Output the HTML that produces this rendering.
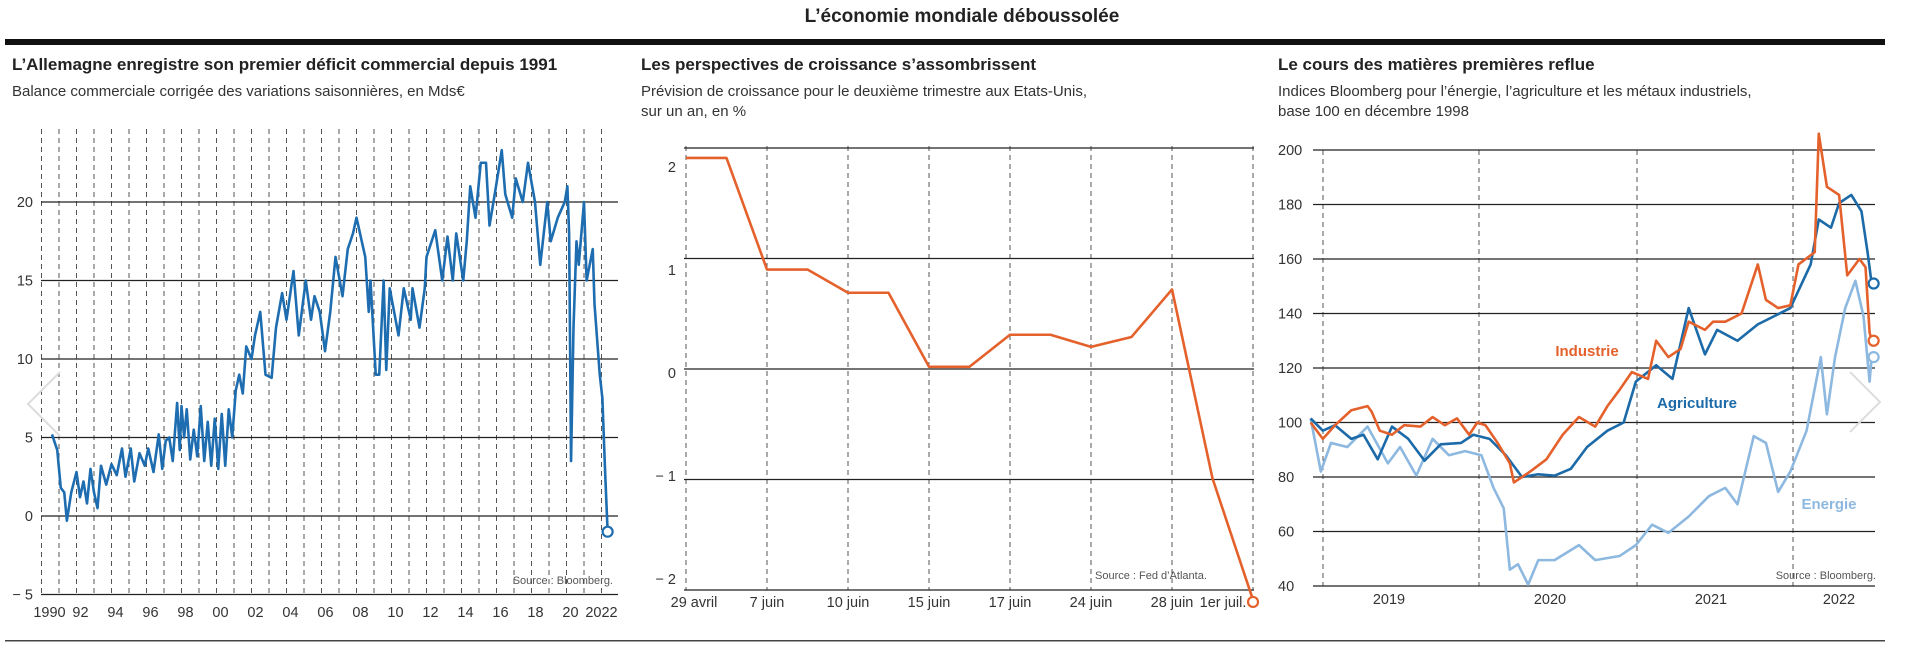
<!DOCTYPE html>
<html><head><meta charset="utf-8"><style>
html,body{margin:0;padding:0;background:#fff;}
svg{display:block;font-family:"Liberation Sans",sans-serif;}
.t{font-weight:bold;font-size:17px;fill:#222;}
.s{font-size:15px;fill:#333;}
.k{font-size:14.5px;fill:#333;}
.src{font-size:11px;fill:#555;}
</style></head><body>
<svg id="chart" width="1907" height="661" viewBox="0 0 1907 661">
<text x="962" y="22" text-anchor="middle" style="font-weight:bold;font-size:19px;fill:#222">L’économie mondiale déboussolée</text>
<rect x="5" y="39" width="1880" height="6" fill="#111"/>
<rect x="5" y="640" width="1880" height="1.5" fill="#444"/>
<text x="12" y="70" class="t">L’Allemagne enregistre son premier déficit commercial depuis 1991</text>
<text x="12" y="96" class="s">Balance commerciale corrigée des variations saisonnières, en Mds€</text>
<text x="641" y="70" class="t">Les perspectives de croissance s’assombrissent</text>
<text x="641" y="96" class="s">Prévision de croissance pour le deuxième trimestre aux Etats-Unis,</text>
<text x="641" y="116" class="s">sur un an, en %</text>
<text x="1278" y="70" class="t">Le cours des matières premières reflue</text>
<text x="1278" y="96" class="s">Indices Bloomberg pour l’énergie, l’agriculture et les métaux industriels,</text>
<text x="1278" y="116" class="s">base 100 en décembre 1998</text>
<g id="p1"></g><g id="p2"></g><g id="p3"></g>
<polyline points="60,372 28,404 60,436" fill="none" stroke="#ddd" stroke-width="2"/>
<polyline points="1850,372 1880,402 1850,432" fill="none" stroke="#ddd" stroke-width="2"/>
</svg>
<script>
// ---- Panel 1 data ----
const p1Years = [1990.6,1990.9,1991.1,1991.3,1991.45,1991.7,1992.0,1992.2,1992.4,1992.6,1992.8,1993.0,1993.2,1993.4,1993.7,1994.0,1994.3,1994.6,1994.8,1995.1,1995.3,1995.6,1995.9,1996.1,1996.4,1996.7,1996.9,1997.1,1997.3,1997.5,1997.75,1997.9,1998.0,1998.15,1998.3,1998.5,1998.7,1998.9,1999.1,1999.3,1999.5,1999.7,1999.9,2000.1,2000.3,2000.5,2000.7,2000.9,2001.1,2001.3,2001.5,2001.7,2002.0,2002.2,2002.5,2002.8,2003.15,2003.4,2003.75,2004.0,2004.4,2004.7,2005.1,2005.4,2005.6,2005.9,2006.2,2006.5,2006.8,2007.2,2007.5,2007.8,2008.0,2008.5,2008.7,2008.8,2009.1,2009.3,2009.55,2009.7,2009.9,2010.4,2010.7,2011.1,2011.2,2011.6,2011.9,2012.0,2012.5,2012.9,2013.2,2013.5,2013.7,2014.1,2014.3,2014.5,2014.8,2015.1,2015.4,2015.6,2015.9,2016.3,2016.5,2016.9,2017.1,2017.5,2017.8,2018.2,2018.5,2018.9,2019.1,2019.5,2019.9,2020.05,2020.15,2020.26,2020.4,2020.57,2020.7,2021.0,2021.15,2021.5,2021.6,2021.9,2022.05,2022.2,2022.35];
const p1Values = [5.2,4.2,1.8,1.5,-0.3,1.5,2.8,1.2,2.2,0.8,3.0,1.5,0.5,3.2,2.0,3.3,2.6,4.3,2.5,4.3,2.2,4.0,3.2,4.3,2.8,5.2,3.0,4.8,5.0,3.5,7.2,4.2,7.0,5.0,6.8,3.6,5.5,3.8,7.0,3.5,6.0,3.2,6.2,3.0,6.5,3.2,6.8,5.0,8.0,9.0,7.8,10.8,10.0,11.5,13.0,9.0,8.8,12.0,14.2,12.5,15.6,11.5,15.0,12.5,14.0,13.0,10.5,13.0,16.5,14.0,17.0,18.0,19.0,16.5,13.0,15.0,9.0,9.0,15.0,9.3,14.5,11.5,14.5,12.5,14.5,12.0,14.5,16.5,18.2,15.0,17.8,15.0,18.0,15.0,17.5,21.0,19.0,22.5,22.5,18.5,20.5,23.3,20.5,19.0,21.5,20.0,22.5,20.0,16.0,20.0,17.5,19.0,20.0,21.0,18.0,3.5,12.0,17.5,16.0,20.0,15.0,17.0,13.5,9.0,7.5,3.0,-1.0];
const p1YTicks = [20,15,10,5,0,-5];
const p1XLabels = ["1990","92","94","96","98","00","02","04","06","08","10","12","14","16","18","20","2022"];
// ---- Panel 2 data ----
const p2Values = [1.91,1.91,0.9,0.9,0.69,0.69,0.02,0.02,0.31,0.31,0.2,0.29,0.72,-0.99,-2.09];
const p2YTicks = [2,1,0,-1,-2];
const p2XLabels = ["29 avril","7 juin","10 juin","15 juin","17 juin","24 juin","28 juin","1er juil."];
// ---- Panel 3 data ----
const p3YTicks = [200,180,160,140,120,100,80,60,40];
const p3XLabels = ["2019","2020","2021","2022"];
const indT = [100,130,160,200,240,250,270,300,330,370,400,430,460,490,510,530,560,590,600,640,680,720,760,800,830,860,890,930,950,980,1010,1030,1070,1090,1120,1160,1200,1220,1250,1280,1300,1340,1350,1370,1400,1420,1450,1465,1475,1480];
const indV = [100,94,99,104.5,106,104,97,95.5,99,98.5,102,99,101.5,95.5,100,99,92.5,85,78,82,86.5,95.5,102,98.5,106,112,118.5,116,130,124,127,137,134,137,137,140,158,145,142,143,158,162.5,206,186.5,183.5,154,160,157,133,130];
const agrT = [100,130,160,200,230,265,300,340,380,420,470,500,540,580,620,660,700,740,780,830,870,900,950,990,1030,1070,1100,1150,1200,1240,1280,1330,1350,1380,1400,1430,1455,1470,1480];
const agrV = [101.5,97,99,94,95.5,86.5,98.5,94,86,92,92.5,95.5,94,88,80,81,80.5,83,91,97,100,115,121,116,142,125,134,130,136,139,142,158,174.5,171.5,180.5,183.5,177.5,162.5,151];
const eneT = [100,125,150,190,240,290,320,360,400,440,480,520,550,575,590,610,635,660,700,760,800,860,900,940,980,1030,1080,1120,1150,1190,1220,1250,1280,1320,1355,1370,1390,1415,1440,1460,1475,1480];
const eneV = [101.5,82,92.5,91,98.5,85,91,80.5,94,88,89.5,88,76,68.5,46,48,40.5,49.5,49.5,55,49.5,51,55,62.5,59.5,65.5,73,76,70,95,92.5,74.5,82,97,124,103,124,142,152,139,115,124];

const NS="http://www.w3.org/2000/svg";
function mk(parent,tag,attrs){const e=document.createElementNS(NS,tag);for(const k in attrs)e.setAttribute(k,attrs[k]);parent.appendChild(e);return e;}
function txt(parent,x,y,s,cls,anchor,fill){const e=mk(parent,'text',{x:x,y:y,class:cls,'text-anchor':anchor||'start'});if(fill)e.style.fill=fill;e.textContent=s;return e;}

// Panel 1
(function(){
const g=document.getElementById('p1');
const x=yr=>41.5+(yr-1990)*17.5, y=v=>516-v*15.7;
for(let i=0;i<=32;i++){const l=mk(g,'line',{x1:x(1990+i),x2:x(1990+i),y1:129,y2:594,stroke:'#555','stroke-width':1,'stroke-dasharray':'5,4'});

}
p1YTicks.forEach(v=>{const l=mk(g,'line',{x1:41,x2:618,y1:y(v),y2:y(v),stroke:'#222','stroke-width':1.3});


const t=txt(g,33,y(v)+5,(v<0?'− '+(-v):String(v)),'k','end');

});
p1XLabels.forEach((s,i)=>{const t=txt(g,x(1990+2*i)+(i==0?8:i==16?0:4),617,s,'k','middle');

});
const pts=p1Years.map((yr,i)=>x(yr)+','+y(p1Values[i])).join(' ');
const pl=mk(g,'polyline',{points:pts,fill:'none',stroke:'#1d6db0','stroke-width':2.6,'stroke-linejoin':'round'});


const n=p1Years.length-1;
const c=mk(g,'circle',{cx:x(p1Years[n]),cy:y(p1Values[n]),r:5,fill:'#fff',stroke:'#1d6db0','stroke-width':2.2});


const s=txt(g,613,584,'Source : Bloomberg.','src','end');


})();

// Panel 2
(function(){
const g=document.getElementById('p2');
const x=i=>686+i*40.5, y=v=>369-v*110.5;
p2XLabels.forEach((s,i)=>{const l=mk(g,'line',{x1:x(2*i),x2:x(2*i),y1:146,y2:590,stroke:'#555','stroke-width':1,'stroke-dasharray':'5,4'});


const t=txt(g,i==0?694:(i==7?1223:x(2*i)),607,s,'k','middle');

});
p2YTicks.forEach(v=>{const l=mk(g,'line',{x1:684,x2:1254,y1:y(v),y2:y(v),stroke:'#222','stroke-width':1.3});


const t=txt(g,676,y(v)+9+v*7.5,(v<0?'− '+(-v):String(v)),'k','end');

});
const pts=p2Values.map((v,i)=>x(i)+','+y(v)).join(' ');
const pl=mk(g,'polyline',{points:pts,fill:'none',stroke:'#e4612c','stroke-width':2.6,'stroke-linejoin':'round'});


const n=p2Values.length-1;
const c=mk(g,'circle',{cx:x(n),cy:y(p2Values[n])+2,r:5,fill:'#fff',stroke:'#e4612c','stroke-width':2.2});


const s=txt(g,1095,579,'Source : Fed d’Atlanta.','src','start');


})();

// Panel 3
(function(){
const g=document.getElementById('p3');
const x=zx=>1270+zx/2.46, y=v=>586-(v-40)*2.725;
[1323,1479,1637,1793].forEach(px=>{const l=mk(g,'line',{x1:px,x2:px,y1:150,y2:586,stroke:'#555','stroke-width':1,'stroke-dasharray':'5,4'});

});
p3YTicks.forEach(v=>{const l=mk(g,'line',{x1:1313,x2:1875,y1:y(v),y2:y(v),stroke:'#222','stroke-width':1.3});


const t=txt(g,1278,y(v)+5,String(v),'k','start');

});
const lx=[1389,1550,1711,1839];
p3XLabels.forEach((s,i)=>{const t=txt(g,lx[i],604,s,'k','middle');

});
const series=[['energy',eneT,eneV,'#8db8e0'],['agriculture',agrT,agrV,'#1c6aa8'],['industry',indT,indV,'#e4612c']];
series.forEach(([nm,T,V,col])=>{
const pl=mk(g,'polyline',{points:T.map((t,i)=>x(t)+','+y(V[i])).join(' '),fill:'none',stroke:col,'stroke-width':2.6,'stroke-linejoin':'round'});


const n=T.length-1;
const c=mk(g,'circle',{cx:x(T[n])+2,cy:y(V[n]),r:5,fill:'#fff',stroke:col,'stroke-width':2.2});


});
const l1=txt(g,1587,356,'Industrie','s','middle','#e4612c');l1.style.fontWeight='bold';


const l2=txt(g,1697,408,'Agriculture','s','middle','#1c6aa8');l2.style.fontWeight='bold';


const l3=txt(g,1829,509,'Energie','s','middle','#8db8e0');l3.style.fontWeight='bold';


const s=txt(g,1876,579,'Source : Bloomberg.','src','end');


})();
</script>
</body></html>
